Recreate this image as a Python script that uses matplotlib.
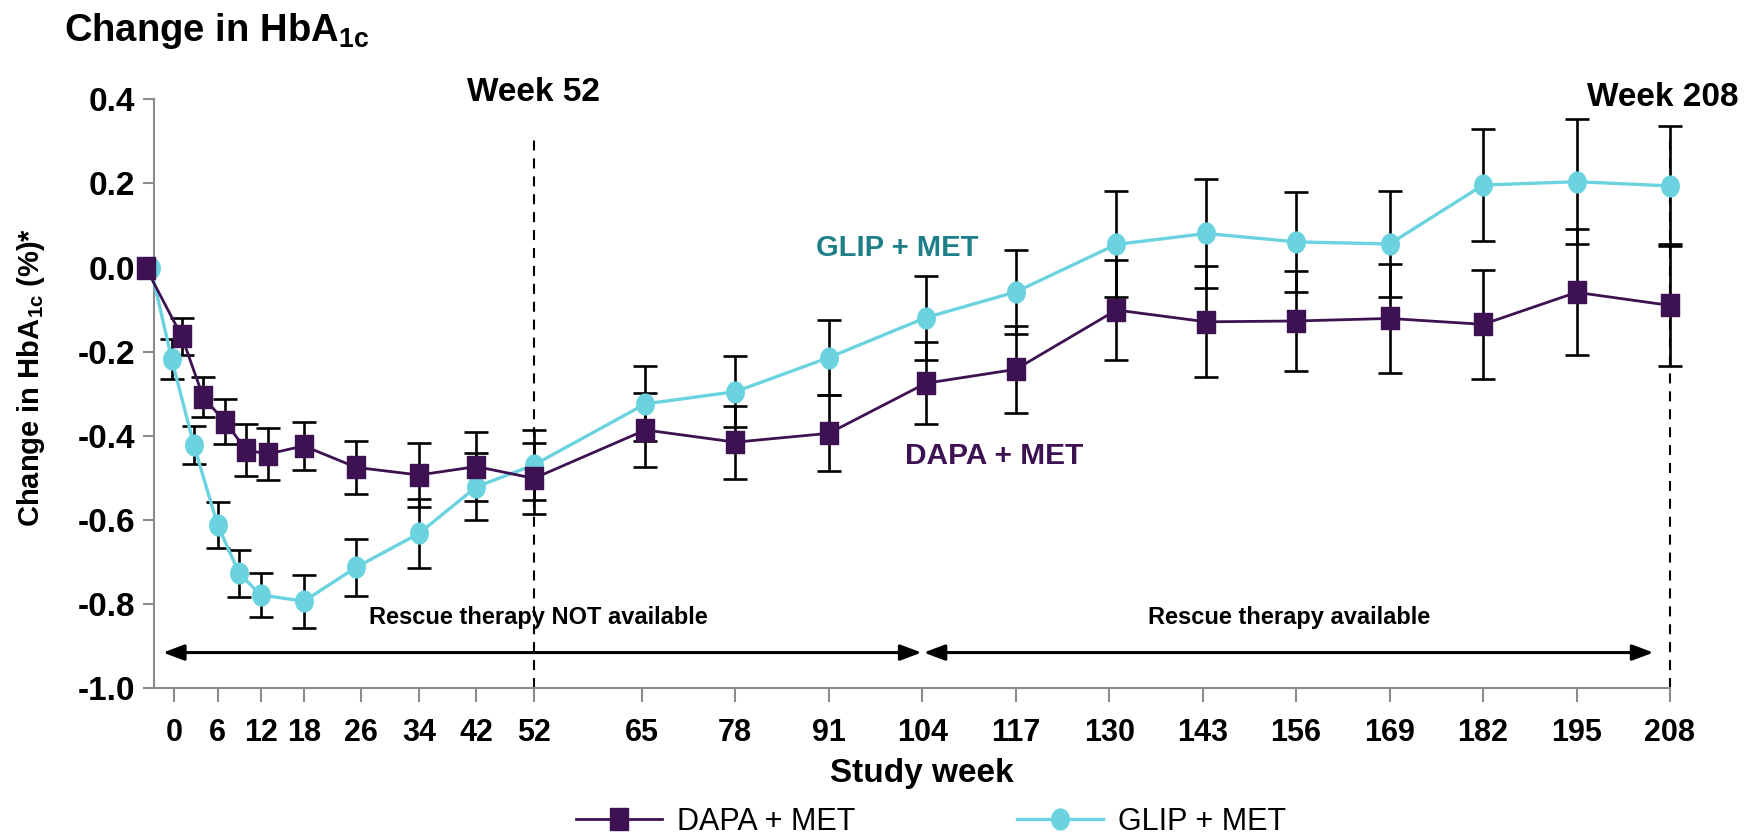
import numpy as np
import matplotlib.pyplot as plt
from matplotlib.path import Path
from matplotlib.lines import Line2D

plt.rcParams['font.family'] = ['Liberation Sans', 'DejaVu Sans']
plt.rcParams['mathtext.fontset'] = 'custom'
plt.rcParams['mathtext.rm'] = 'Liberation Sans'
plt.rcParams['mathtext.bf'] = 'Liberation Sans:bold'

NARROW = ['Liberation Sans Narrow', 'Liberation Sans', 'DejaVu Sans']

# ------------------------------------------------------------
# data: mean change in HbA1c (%) and error bar half-widths
# ------------------------------------------------------------
dapa_week = [-4, 1, 4, 7, 10, 13, 18, 25.3, 34, 42, 52, 65.5, 78, 91,
             104.5, 117, 131, 143.5, 156, 169, 182, 195, 208]
dapa_mean = [0.0, -0.163, -0.308, -0.366, -0.434, -0.443, -0.424, -0.475,
             -0.493, -0.473, -0.501, -0.386, -0.415, -0.394, -0.275, -0.242,
             -0.101, -0.129, -0.127, -0.121, -0.135, -0.059, -0.090]
dapa_err = [0.0, 0.044, 0.048, 0.053, 0.061, 0.061, 0.058, 0.063, 0.075,
            0.083, 0.084, 0.087, 0.087, 0.090, 0.098, 0.104, 0.118, 0.132,
            0.118, 0.129, 0.129, 0.150, 0.145]

glip_week = [-3.3, -0.4, 2.7, 6, 9, 12, 18, 25.3, 34, 42, 52, 65.5, 78, 91,
             104.5, 117, 131, 143.5, 156, 169, 182, 195, 208]
glip_mean = [0.0, -0.217, -0.422, -0.612, -0.727, -0.778, -0.793, -0.712,
             -0.632, -0.521, -0.469, -0.324, -0.295, -0.214, -0.119, -0.058,
             0.055, 0.081, 0.061, 0.056, 0.196, 0.204, 0.194]
glip_err = [0.0, 0.047, 0.046, 0.055, 0.055, 0.052, 0.063, 0.068, 0.081,
            0.080, 0.083, 0.089, 0.084, 0.090, 0.100, 0.100, 0.126, 0.130,
            0.119, 0.127, 0.134, 0.148, 0.143]

week_ticks = [0, 6, 12, 18, 26, 34, 42, 52, 65, 78, 91, 104, 117, 130, 143,
              156, 169, 182, 195, 208]
y_ticks = [0.4, 0.2, 0.0, -0.2, -0.4, -0.6, -0.8, -1.0]

DAPA_COLOR = '#3d1152'
GLIP_COLOR = '#6bd3df'
GLIP_TEXT = '#1f7f89'
AXIS_GRAY = '#8c8c8c'

# week axis: slightly compressed between week 42 and 65
_knots_in = [-100, 42, 52, 65, 400]
_knots_out = [-100, 42, 50, 65, 400]


def week_fwd(w):
    return np.interp(w, _knots_in, _knots_out)


def week_inv(d):
    return np.interp(d, _knots_out, _knots_in)


# tall markers (square and oval)
sq_marker = Path([(-0.41, -0.5), (0.41, -0.5), (0.41, 0.5), (-0.41, 0.5), (-0.41, -0.5)],
                 [Path.MOVETO, Path.LINETO, Path.LINETO, Path.LINETO, Path.CLOSEPOLY])
t = np.linspace(0, 2 * np.pi, 60)
oval_marker = Path(np.column_stack([0.42 * np.cos(t), 0.5 * np.sin(t)]))

fig = plt.figure(figsize=(17.54, 8.38), dpi=100)
ax = fig.add_axes([0.0880, 0.1786, 0.8641, 0.7030])

ax.set_xscale('function', functions=(week_fwd, week_inv))
ax.set_xlim(-2.8, 208)
ax.set_ylim(-1.0, 0.4)

# error bars sit under the lines and markers
for wk, m, e in [(dapa_week, dapa_mean, dapa_err), (glip_week, glip_mean, glip_err)]:
    eb = ax.errorbar(wk[1:], m[1:], yerr=e[1:], fmt='none', ecolor='black',
                     elinewidth=1.9, capsize=8.5, capthick=1.9, zorder=2)
    for art in eb.lines[1] + eb.lines[2]:
        art.set_clip_on(False)

ax.plot(dapa_week, dapa_mean, color=DAPA_COLOR, lw=2.0, marker=sq_marker,
        ms=16.3, mfc=DAPA_COLOR, mec=DAPA_COLOR, zorder=4, clip_on=False)
ax.plot(glip_week, glip_mean, color=GLIP_COLOR, lw=2.4, marker=oval_marker,
        ms=15, mfc=GLIP_COLOR, mec=GLIP_COLOR, zorder=3, clip_on=False)

# week 52 / week 208 reference lines
for wk in (52, 208):
    ax.plot([wk, wk], [-1.0, 0.32], color='black', lw=1.5,
            dashes=(4.8, 3.8), zorder=1, clip_on=False)
ax.text(52, 0.415, 'Week 52', ha='center', va='center', fontsize=24,
        fontweight='bold', family=NARROW)
ax.text(207, 0.405, 'Week 208', ha='center', va='center', fontsize=24,
        fontweight='bold', family=NARROW)

# rescue therapy periods
arrow_y = -0.915
arrow_kw = dict(arrowstyle='<|-|>,head_length=0.8,head_width=0.3', color='black',
                lw=2.2, mutation_scale=16, shrinkA=0, shrinkB=0)
ax.annotate('', xy=(103.9, arrow_y), xytext=(-1.6, arrow_y), arrowprops=arrow_kw,
            annotation_clip=False)
ax.annotate('', xy=(205.7, arrow_y), xytext=(104.2, arrow_y), arrowprops=arrow_kw,
            annotation_clip=False)
ax.text(52.5, -0.832, 'Rescue therapy NOT available', ha='center', va='center',
        fontsize=17, fontweight='bold')
ax.text(155, -0.832, 'Rescue therapy available', ha='center', va='center',
        fontsize=17, fontweight='bold')

# series labels
ax.text(100.5, 0.047, 'GLIP + MET', ha='center', va='center', fontsize=21,
        fontweight='bold', color=GLIP_TEXT)
ax.text(114, -0.447, 'DAPA + MET', ha='center', va='center', fontsize=21.5,
        fontweight='bold', color=DAPA_COLOR)

# axes styling
for side in ('top', 'right'):
    ax.spines[side].set_visible(False)
for side in ('left', 'bottom'):
    ax.spines[side].set_color(AXIS_GRAY)
    ax.spines[side].set_linewidth(1.5)

ax.set_xticks(week_ticks)
ax.set_xticklabels([str(w) for w in week_ticks], fontsize=22, fontweight='bold',
                   family=NARROW)
ax.minorticks_off()
ax.set_yticks(y_ticks)
ax.set_yticklabels([f'{v:.1f}' for v in y_ticks], fontsize=24, fontweight='bold')
ax.tick_params(axis='x', length=10.3, width=1.5, color=AXIS_GRAY, pad=11)
ax.tick_params(axis='y', length=8, width=1.5, color=AXIS_GRAY, pad=6)

fig.text(0.5255, 0.077, 'Study week', ha='center', va='center', fontsize=24,
         fontweight='bold', family=NARROW)
fig.text(0.0177, 0.55, r'Change in HbA$_{\mathbf{1c}}$ (%)*', rotation=90,
         ha='center', va='center', fontsize=21, fontweight='bold')
fig.text(0.0365, 0.951, r'Change in HbA$_{\mathbf{1c}}$', ha='left', va='baseline',
         fontsize=27.5, fontweight='bold', family=NARROW)

handles = [
    Line2D([], [], color=DAPA_COLOR, lw=2.0, marker=sq_marker, ms=16.3,
           mfc=DAPA_COLOR, mec=DAPA_COLOR, label='DAPA + MET'),
    Line2D([], [], color=GLIP_COLOR, lw=2.4, marker=oval_marker, ms=15,
           mfc=GLIP_COLOR, mec=GLIP_COLOR, label='GLIP + MET'),
]
fig.legend(handles=handles, loc='center', bbox_to_anchor=(0.531, 0.019), ncol=2,
           frameon=False, handlelength=2.8, handletextpad=0.5, columnspacing=5.3,
           prop={'family': NARROW, 'size': 22})

fig.savefig('out.png', dpi=100)
